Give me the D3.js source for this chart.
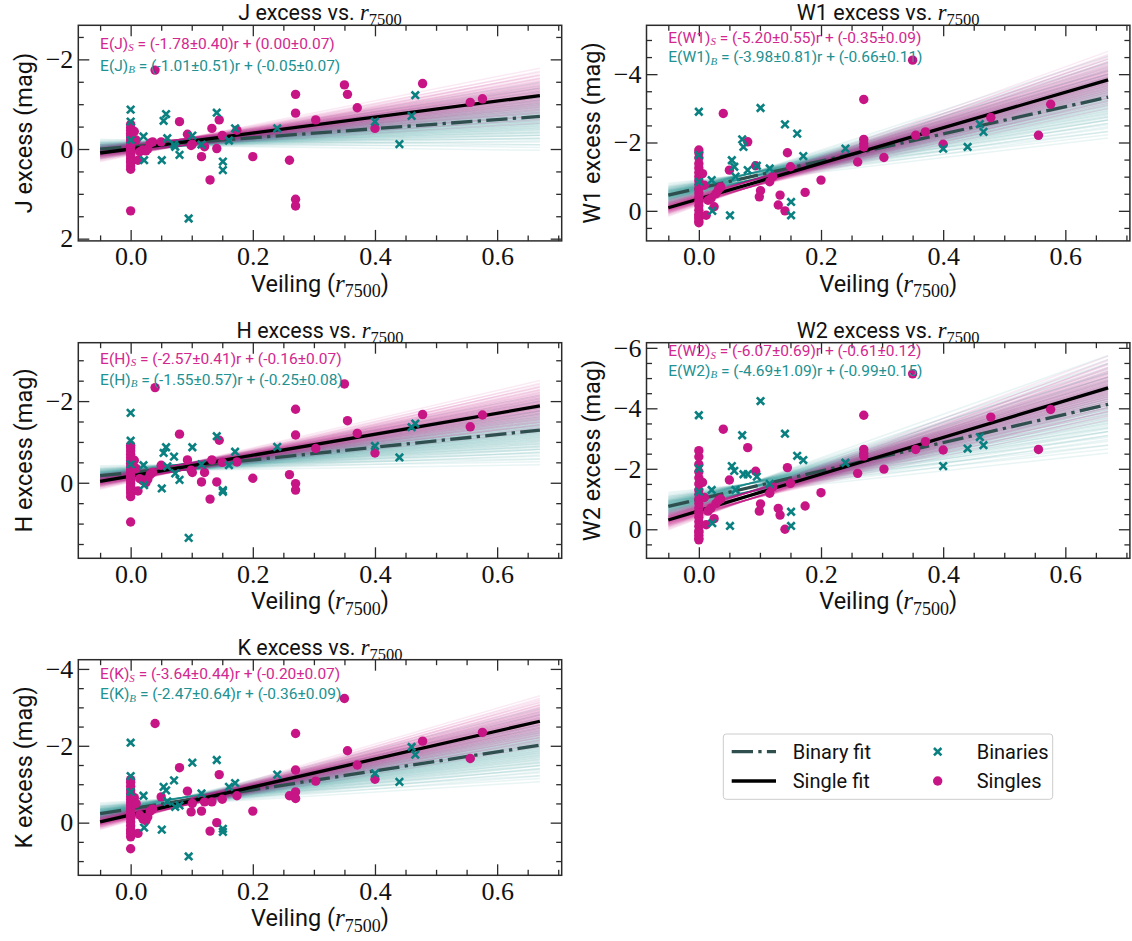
<!DOCTYPE html>
<html>
<head>
<meta charset="utf-8">
<script src="https://cdn.jsdelivr.net/npm/d3@7"></script>
<style>
  body { margin: 0; background: #fff; }
  svg text { font-family: Roboto, "Noto Sans", sans-serif; fill: #111; }
</style>
</head>
<body>
<svg id="chart" width="1132" height="941"></svg>
<script>
'use strict';

// ---------------------------------------------------------------
// values
// ---------------------------------------------------------------
var bands = ['J', 'W1', 'H', 'W2', 'K'];

// veiling of the single stars (20 at r=0, a small-r clump, then the rest)
var singleR = [
  0, 0, 0, 0, 0, 0, 0, 0, 0, 0, 0, 0, 0, 0, 0, 0, 0, 0, 0, 0,
  0.006, 0.009, 0.012, 0.015, 0.020, 0.025, 0.028, 0.032, 0.036, 0.050,
  0.040, 0.080, 0.093, 0.101, 0.099, 0.116, 0.121, 0.130, 0.133, 0.141,
  0.145, 0.150, 0.174, 0.200, 0.260, 0.270, 0.270, 0.270, 0.270, 0.303,
  0.350, 0.355, 0.371, 0.400, 0.478, 0.556, 0.576
];
var singleJ = [
  1.38, 0.45, 0.38, 0.30, 0.22, 0.15, 0.10, 0.05, 0.00, -0.05, -0.10, -0.15, -0.20, -0.25, -0.30, -0.35, -0.42, -0.48, -0.55, 0.28,
  -0.39, -0.20, 0.25, 0.06, 0.02, 0.04, 0.00, -0.13, -0.16, -0.16,
  -1.76, -0.61, -0.33, -0.11, -0.08, 0.17, -0.05, 0.69, -0.46, -0.01,
  -0.65, -0.30, -0.42, 0.17, 0.25, -1.22, -0.80, 1.12, 1.27, -0.65,
  -1.43, -1.22, -0.92, -0.46, -1.46, -1.04, -1.12
];
var singleH = [
  0.96, 0.34, 0.25, 0.18, 0.10, 0.02, -0.05, -0.12, -0.18, -0.25, -0.32, -0.40, -0.48, -0.55, -0.62, -0.70, -0.78, -0.86, -0.92, 0.12,
  -0.55, -0.35, 0.20, -0.10, -0.05, 0.00, -0.08, -0.20, -0.25, -0.43,
  -2.33, -1.19, -0.56, -0.25, -0.31, -0.02, -0.25, 0.40, -0.56, -0.02,
  -1.04, -0.50, -0.51, -0.11, -0.20, -1.80, -1.17, 0.02, 0.18, -0.84,
  -2.42, -1.52, -1.21, -0.73, -1.67, -1.37, -1.66
];
var singleK = [
  0.68, 0.37, 0.28, 0.18, 0.08, -0.02, -0.12, -0.20, -0.28, -0.36, -0.44, -0.52, -0.60, -0.68, -0.76, -0.85, -0.95, -1.05, -1.12, 0.22,
  -0.65, -0.50, 0.28, -0.20, -0.10, -0.05, -0.15, -0.30, -0.35, -0.67,
  -2.58, -1.43, -0.82, -0.50, -0.28, -0.30, -0.54, 0.22, -0.54, 0.00,
  -1.25, -0.61, -0.70, -0.30, -0.70, -2.32, -1.37, -0.80, -0.63, -1.08,
  -3.23, -1.87, -1.50, -1.13, -2.12, -1.67, -2.35
];
var singleW1 = [
  0.30, 0.35, 0.22, 0.10, -0.02, -0.15, -0.28, -0.40, -0.52, -0.64, -0.76, -0.88, -1.00, -1.12, -1.25, -1.38, -1.55, -1.70, -1.78, 0.15,
  -1.09, -0.75, 0.13, -0.31, -0.36, -0.12, -0.50, -0.62, -0.70, -1.19,
  -2.85, -2.02, -1.32, -0.59, -0.41, -0.85, -1.00, -0.17, -0.46, 0.00,
  -1.70, -1.29, -0.54, -0.90, -1.43, -3.26, -2.09, -1.97, -1.87, -1.56,
  -4.41, -2.21, -2.31, -1.95, -2.73, -2.21, -3.12
];
var singleW2 = [
  0.30, 0.35, 0.20, 0.05, -0.10, -0.25, -0.40, -0.55, -0.70, -0.85, -1.00, -1.15, -1.30, -1.50, -1.70, -1.90, -2.15, -2.40, -2.60, 0.10,
  -1.55, -1.05, -0.15, -0.60, -0.70, -0.35, -0.85, -0.95, -1.00, -1.63,
  -3.31, -2.70, -1.92, -0.84, -0.60, -1.19, -1.40, -0.69, -0.47, 0.00,
  -2.04, -1.52, -0.77, -1.21, -1.85, -3.77, -2.64, -2.51, -2.42, -1.99,
  -5.14, -2.64, -2.90, -2.62, -3.71, -2.64, -3.96
];

// veiling of the binaries
var binaryR = [
  0, 0, 0, 0.021, 0.022, 0.051, 0.054, 0.058, 0.060, 0.071, 0.073, 0.080, 0.095,
  0.101, 0.116, 0.141, 0.151, 0.151, 0.161, 0.171, 0.240, 0.400, 0.440, 0.460, 0.466
];
var binaryJ = [
  -0.88, -0.61, -0.20, -0.28, 0.25, 0.25, -0.63, -0.78, -0.24, -0.10, -0.05, 0.13, 1.55,
  -0.30, -0.10, -0.81, 0.28, 0.47, -0.19, -0.46, -0.46, -0.61, -0.11, -0.74, -1.20
];
var binaryH = [
  -1.71, -1.03, -0.45, -0.43, 0.06, 0.14, -0.73, -0.87, -0.40, -0.64, -0.23, -0.07, 1.35,
  -0.87, -0.45, -1.14, 0.22, 0.18, -0.43, -0.76, -0.88, -0.90, -0.62, -1.36, -1.45
];
var binaryK = [
  -2.08, -1.21, -0.80, -0.70, 0.13, 0.18, -0.93, -0.84, -0.55, -1.10, -0.41, -0.45, 0.88,
  -1.56, -0.76, -1.63, 0.16, 0.24, -0.93, -1.03, -1.25, -1.28, -1.06, -1.97, -1.77
];
var binaryW1 = [
  -2.90, -1.63, -0.85, -0.90, 0.00, 0.13, -1.48, -1.29, -1.00, -2.09, -1.87, -1.19, -1.32,
  -3.01, -1.24, -2.53, -0.26, 0.13, -2.26, -1.60, -1.82, -1.82, -1.87, -2.54, -2.31
];
var binaryW2 = [
  -3.77, -2.01, -1.24, -1.30, -0.20, -0.11, -2.09, -1.93, -1.30, -3.11, -1.82, -1.82, -1.74,
  -4.24, -1.50, -3.16, -0.58, -0.11, -2.43, -2.29, -2.20, -2.09, -2.67, -3.05, -2.78
];

// fit results, in the order of `bands`
var slopeS    = [-1.78, -5.20, -2.57, -6.07, -3.64];
var slopeErrS = [ 0.40,  0.55,  0.41,  0.69,  0.44];
var interS    = [ 0.00, -0.35, -0.16, -0.61, -0.20];
var interErrS = [ 0.07,  0.09,  0.07,  0.12,  0.07];
var slopeB    = [-1.01, -3.98, -1.55, -4.69, -2.47];
var slopeErrB = [ 0.51,  0.81,  0.57,  1.09,  0.64];
var interB    = [-0.05, -0.66, -0.25, -0.99, -0.36];
var interErrB = [ 0.07,  0.11,  0.08,  0.15,  0.09];

// posterior draws shown as faint lines (slope offsets in sigma, intercept jitter in sigma)
var drawSlopeZ = [-2.3, -1.9, -1.6, -1.4, -1.2, -1.05, -0.9, -0.75, -0.62, -0.5, -0.38, -0.27, -0.16, -0.05,
                   0.05, 0.16, 0.27, 0.38, 0.5, 0.62, 0.75, 0.9, 1.05, 1.2, 1.4, 1.6, 1.9, 2.3];
var drawOffsetZ = [-1.1, 0, 1.1];
var pivotR = 0.08;
var fitRange = [-0.05, 0.67];

var xMajor = [0, 0.2, 0.4, 0.6];

// ---------------------------------------------------------------
// layout
// ---------------------------------------------------------------
var colLeft = [78.3, 646.5],
    rowTop = [25.3, 342.7, 659.7],
    axW = 483.4,
    axH = 215.6,
    xDomain = [-0.0857, 0.7057];

var panels = [
  { band: 'J',  col: 0, row: 0, yDomain: [-2.76, 2.05], yMajor: [-2, 0, 2],      noteY: [-2.36, -1.87] },
  { band: 'W1', col: 1, row: 0, yDomain: [-5.43, 0.88], yMajor: [-4, -2, 0],     noteY: [-5.08, -4.51] },
  { band: 'H',  col: 0, row: 1, yDomain: [-3.43, 1.85], yMajor: [-2, 0],         noteY: [-3.05, -2.54] },
  { band: 'W2', col: 1, row: 1, yDomain: [-6.17, 0.96], yMajor: [-6, -4, -2, 0], noteY: [-5.91, -5.26] },
  { band: 'K',  col: 0, row: 2, yDomain: [-4.24, 1.37], yMajor: [-4, -2, 0],     noteY: [-3.87, -3.36] }
];

var singleByBand = { J: singleJ, W1: singleW1, H: singleH, W2: singleW2, K: singleK },
    binaryByBand = { J: binaryJ, W1: binaryW1, H: binaryH, W2: binaryW2, K: binaryK };

var pink = '#c71585',
    pinkText = '#d3278f',
    teal = '#0a8080',
    tealText = '#219191',
    slate = '#2f4f4f',
    axisColor = '#2b2b2b',
    dashDot = '21.3,5.3,3.3,5.3';

var svg = d3.select('#chart');

panels.forEach(drawPanel);
drawLegend();


//////////////////////////////////////////////////////
function sampleLines(m, sm, b, sb) {
    var sbRes = Math.sqrt(Math.max(sb * sb - sm * sm * pivotR * pivotR, 0.0004)),
        out = [];
    drawSlopeZ.forEach(function(z1) {
        drawOffsetZ.forEach(function(z2) {
            out.push({ m: m + z1 * sm, b: b - z1 * sm * pivotR + z2 * sbRes });
        });
    });
    return out;
}

function num(v) {
    return (v < 0 ? '-' : '') + Math.abs(v).toFixed(2);
}

function mathR(sel, size, subSize) {
    // italic r with a 7500 subscript
    sel.append('tspan')
        .style('font-family', '"Liberation Serif", serif')
        .style('font-style', 'italic')
        .style('font-size', size + 'px')
        .text('r');
    sel.append('tspan')
        .style('font-family', '"Liberation Serif", serif')
        .style('font-size', subSize + 'px')
        .attr('dy', size * 0.22)
        .text('7500');
}

function styleAxis(g, size) {
    g.select('.domain').remove();
    g.selectAll('.tick line').attr('stroke', axisColor).attr('stroke-width', 1.3);
    g.selectAll('.tick text')
        .style('font-family', '"Liberation Serif", serif')
        .style('font-size', size + 'px')
        .attr('fill', '#222');
}

function drawPanel(p) {
    var k = bands.indexOf(p.band),
        left = colLeft[p.col],
        top = rowTop[p.row];

    var g = svg.append('g').attr('transform', 'translate(' + left + ',' + top + ')');

    var x = d3.scaleLinear().domain(xDomain).range([0, axW]),
        y = d3.scaleLinear().domain(p.yDomain).range([0, axH]);

    var yMinor = d3.range(Math.ceil(p.yDomain[0] * 2) / 2, p.yDomain[1], 0.5)
            .filter(function(v) { return p.yMajor.indexOf(v) < 0; }),
        xMinor = d3.range(-0.05, 0.71, 0.05)
            .filter(function(v) { return xMajor.every(function(m) { return Math.abs(m - v) > 1e-6; }); });

    // faint posterior lines: binaries then singles
    var lineGroups = [
        { lines: sampleLines(slopeB[k], slopeErrB[k], interB[k], interErrB[k]), color: teal, op: 0.09 },
        { lines: sampleLines(slopeS[k], slopeErrS[k], interS[k], interErrS[k]), color: pink, op: 0.09 }
    ];
    lineGroups.forEach(function(grp) {
        g.append('g').selectAll('line')
            .data(grp.lines)
            .enter().append('line')
            .attr('x1', x(fitRange[0]))
            .attr('x2', x(fitRange[1]))
            .attr('y1', function(d) { return y(d.m * fitRange[0] + d.b); })
            .attr('y2', function(d) { return y(d.m * fitRange[1] + d.b); })
            .attr('stroke', grp.color)
            .attr('stroke-opacity', grp.op)
            .attr('stroke-width', 1.5);
    });

    // best fits
    var fitLine = d3.line()
        .x(function(d) { return x(d[0]); })
        .y(function(d) { return y(d[1]); });

    g.append('path')
        .attr('d', fitLine(fitRange.map(function(r) { return [r, slopeB[k] * r + interB[k]]; })))
        .attr('fill', 'none')
        .attr('stroke', slate)
        .attr('stroke-width', 3.3)
        .attr('stroke-dasharray', dashDot);

    g.append('path')
        .attr('d', fitLine(fitRange.map(function(r) { return [r, slopeS[k] * r + interS[k]]; })))
        .attr('fill', 'none')
        .attr('stroke', '#000')
        .attr('stroke-width', 3.3);

    // points
    var sVals = singleByBand[p.band],
        bVals = binaryByBand[p.band];

    g.append('g').selectAll('circle')
        .data(singleR.map(function(r, i) { return [r, sVals[i]]; }))
        .enter().append('circle')
        .attr('cx', function(d) { return x(d[0]); })
        .attr('cy', function(d) { return y(d[1]); })
        .attr('r', 4.7)
        .attr('fill', pink);

    var cross = d3.symbol().type(d3.symbolTimes).size(38);
    g.append('g').selectAll('path')
        .data(binaryR.map(function(r, i) { return [r, bVals[i]]; }))
        .enter().append('path')
        .attr('d', cross)
        .attr('transform', function(d) { return 'translate(' + x(d[0]) + ',' + y(d[1]) + ')'; })
        .attr('fill', 'none')
        .attr('stroke', teal)
        .attr('stroke-width', 2.6);

    // axes: inward ticks on all four sides
    var fmtY = d3.format('d');
    [['left', 0], ['right', axW]].forEach(function(side) {
        var gen = side[0] === 'left' ? d3.axisLeft : d3.axisRight;
        var maj = g.append('g').attr('transform', 'translate(' + side[1] + ',0)')
            .call(gen(y).tickValues(p.yMajor).tickSize(-11).tickPadding(5)
                .tickFormat(side[0] === 'left' ? fmtY : ''));
        styleAxis(maj, 26);
        var mnr = g.append('g').attr('transform', 'translate(' + side[1] + ',0)')
            .call(gen(y).tickValues(yMinor).tickSize(-5.5).tickFormat(''));
        styleAxis(mnr, 26);
    });
    [['bottom', axH], ['top', 0]].forEach(function(side) {
        var gen = side[0] === 'bottom' ? d3.axisBottom : d3.axisTop;
        var maj = g.append('g').attr('transform', 'translate(0,' + side[1] + ')')
            .call(gen(x).tickValues(xMajor).tickSize(-11).tickPadding(6)
                .tickFormat(side[0] === 'bottom' ? d3.format('.1f') : ''));
        styleAxis(maj, 26);
        var mnr = g.append('g').attr('transform', 'translate(0,' + side[1] + ')')
            .call(gen(x).tickValues(xMinor).tickSize(-5.5).tickFormat(''));
        styleAxis(mnr, 26);
    });

    g.append('rect')
        .attr('width', axW)
        .attr('height', axH)
        .attr('fill', 'none')
        .attr('stroke', axisColor)
        .attr('stroke-width', 1.5);

    // fit annotations
    [[interS, slopeS, slopeErrS, interErrS, 'S', pinkText, p.noteY[0]],
     [interB, slopeB, slopeErrB, interErrB, 'B', tealText, p.noteY[1]]].forEach(function(a) {
        var t = g.append('text')
            .attr('x', x(-0.05))
            .attr('y', y(a[6]))
            .attr('dy', '0.36em')
            .style('font-size', '15.5px')
            .style('fill', a[5]);
        t.append('tspan').text('E(' + p.band + ')');
        t.append('tspan')
            .style('font-family', '"Liberation Serif", serif')
            .style('font-style', 'italic')
            .style('font-size', '11px')
            .attr('dy', 2.5)
            .text(a[4]);
        t.append('tspan')
            .attr('dy', -2.5)
            .text(' = (' + num(a[1][k]) + '\u00b1' + a[2][k].toFixed(2) + ')r + (' +
                  num(a[0][k]) + '\u00b1' + a[3][k].toFixed(2) + ')');
    });

    // title and axis labels
    var title = g.append('text')
        .attr('x', axW / 2)
        .attr('y', -5)
        .attr('text-anchor', 'middle')
        .style('font-size', '21.5px');
    title.append('tspan').text(p.band + ' excess vs. ');
    mathR(title, 22.5, 16.5);

    var xl = g.append('text')
        .attr('x', axW / 2)
        .attr('y', axH + 51)
        .attr('text-anchor', 'middle')
        .style('font-size', '23.5px');
    xl.append('tspan').text('Veiling (');
    mathR(xl, 25, 18);
    xl.append('tspan').attr('dy', -25 * 0.22).text(')');

    g.append('text')
        .attr('transform', 'translate(-54.5,' + (axH / 2) + ') rotate(-90)')
        .attr('text-anchor', 'middle')
        .attr('dy', '0.35em')
        .style('font-size', '23.5px')
        .text(p.band + ' excess (mag)');
}

function drawLegend() {
    var lg = svg.append('g').attr('transform', 'translate(723.3,734)');
    lg.append('rect')
        .attr('width', 329.4)
        .attr('height', 65.3)
        .attr('rx', 3)
        .attr('fill', '#fff')
        .attr('fill-opacity', 0.8)
        .attr('stroke', '#cccccc')
        .attr('stroke-width', 1);

    var rows = [17.7, 47];
    lg.append('line')
        .attr('x1', 8.4).attr('x2', 52.7).attr('y1', rows[0]).attr('y2', rows[0])
        .attr('stroke', slate).attr('stroke-width', 3.3).attr('stroke-dasharray', dashDot);
    lg.append('line')
        .attr('x1', 8.4).attr('x2', 52.7).attr('y1', rows[1]).attr('y2', rows[1])
        .attr('stroke', '#000').attr('stroke-width', 3.3);
    lg.append('path')
        .attr('d', d3.symbol().type(d3.symbolTimes).size(38))
        .attr('transform', 'translate(214.4,' + rows[0] + ')')
        .attr('fill', 'none').attr('stroke', teal).attr('stroke-width', 2.6);
    lg.append('circle')
        .attr('cx', 214.4).attr('cy', rows[1]).attr('r', 4.7).attr('fill', pink);

    [['Binary fit', 69.4, rows[0]], ['Single fit', 69.4, rows[1]],
     ['Binaries', 253.4, rows[0]], ['Singles', 253.4, rows[1]]].forEach(function(l) {
        lg.append('text')
            .attr('x', l[1])
            .attr('y', l[2])
            .attr('dy', '0.36em')
            .style('font-size', '20px')
            .text(l[0]);
    });
}
</script>
</body>
</html>
